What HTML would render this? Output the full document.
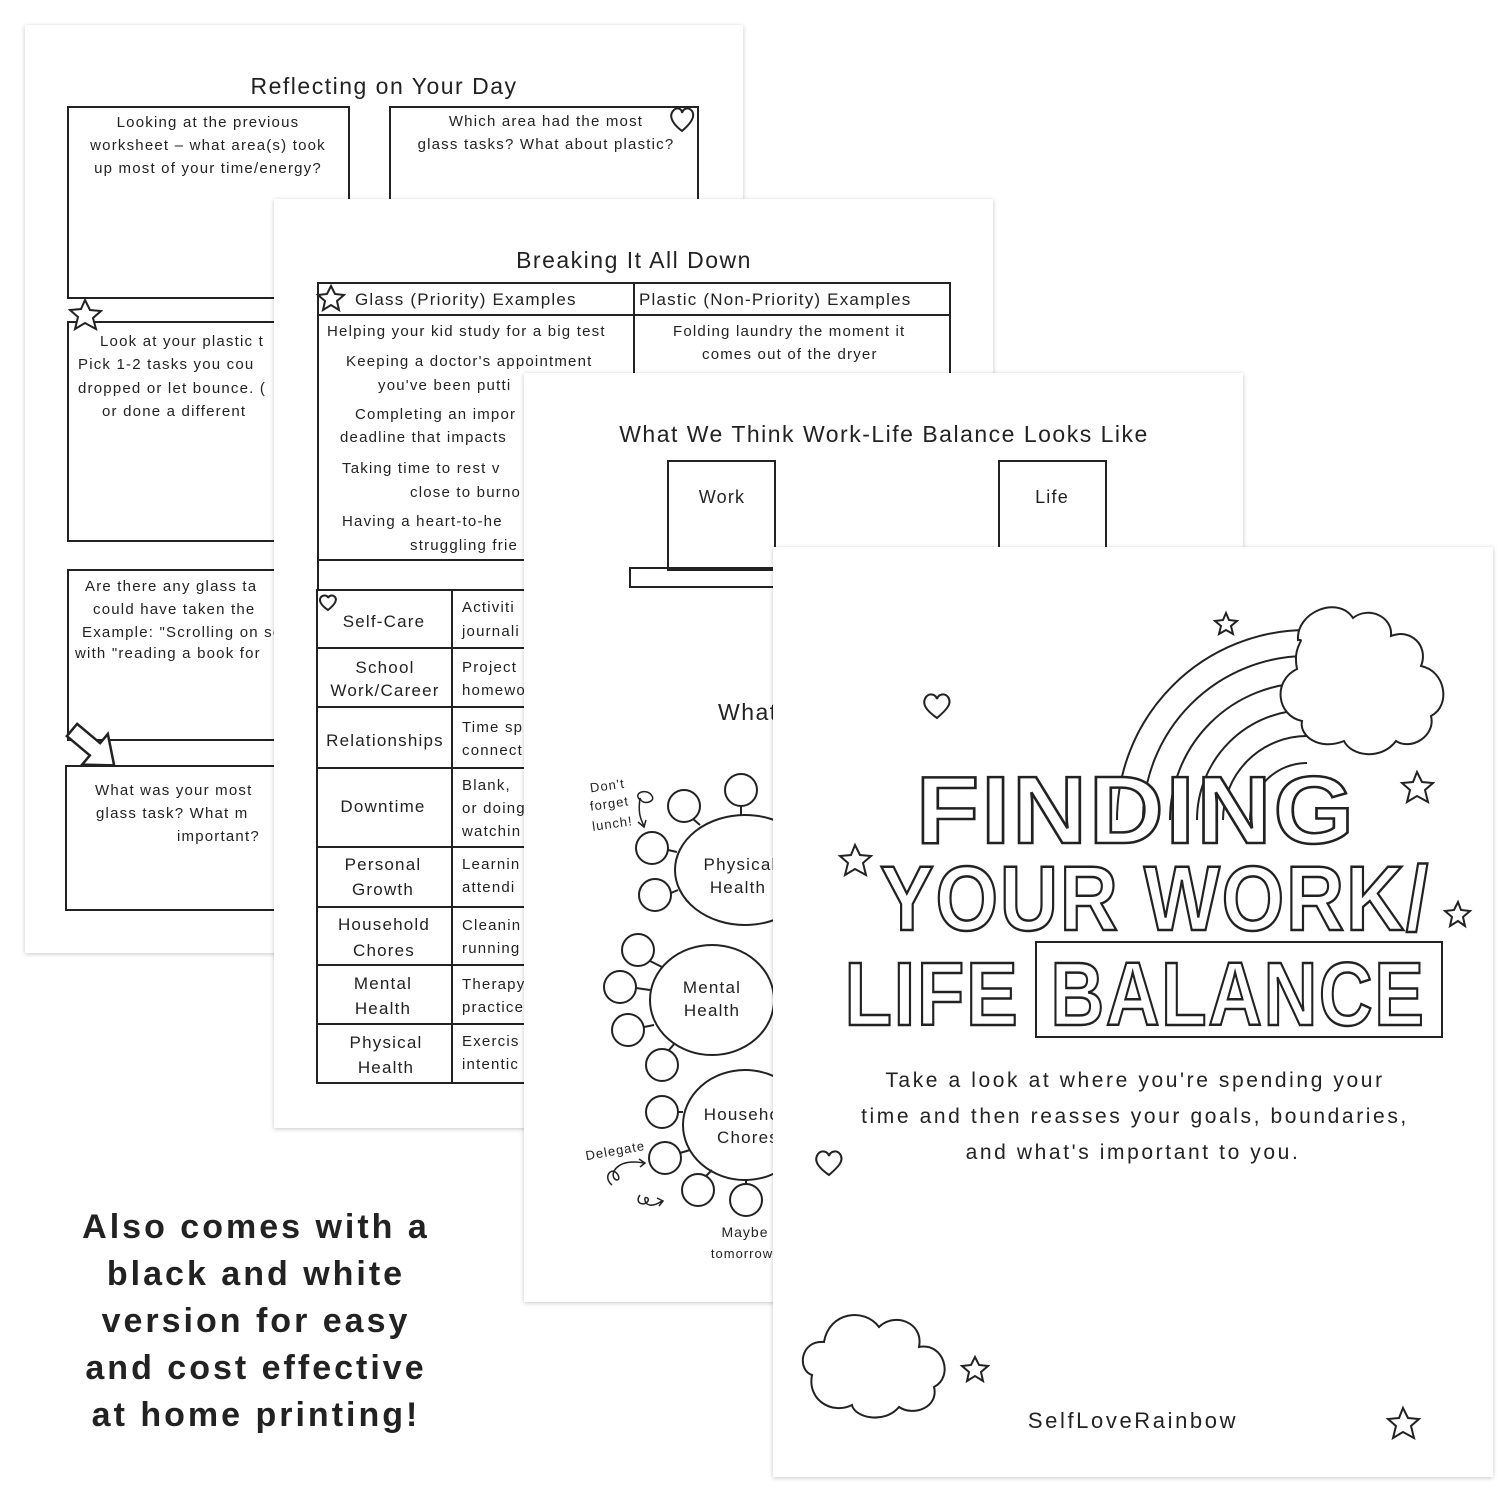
<!DOCTYPE html>
<html><head><meta charset="utf-8"><style>
html,body{margin:0;padding:0;background:#fff;}
svg{display:block}
text{font-family:"Liberation Sans",sans-serif;fill:#222;}
.t{font-size:15px;letter-spacing:1.2px}
.h{font-size:23px;letter-spacing:1.5px}
</style></head><body>
<svg width="1500" height="1500" viewBox="0 0 1500 1500" xmlns="http://www.w3.org/2000/svg">
<defs>
<filter id="sh" x="-5%" y="-5%" width="110%" height="110%"><feDropShadow dx="0" dy="1" stdDeviation="2.5" flood-color="#000" flood-opacity="0.22"/></filter>
</defs>
<g fill="none" stroke="#222" stroke-width="2">
<!-- PAGE 1 -->
<rect x="25" y="25" width="718" height="928" fill="#fff" stroke="none" filter="url(#sh)"/>
<text x="384" y="94" class="h" text-anchor="middle" stroke="none">Reflecting on Your Day</text>
<rect x="68" y="107" width="281" height="191"/>
<rect x="390" y="107" width="308" height="100"/>
<rect x="68" y="322" width="220" height="219"/>
<rect x="68" y="570" width="220" height="170"/>
<rect x="66" y="766" width="220" height="144"/>
<g stroke="none" class="t" text-anchor="middle">
<text x="208" y="127">Looking at the previous</text>
<text x="208" y="150">worksheet – what area(s) took</text>
<text x="208" y="173">up most of your time/energy?</text>
<text x="546" y="126">Which area had the most</text>
<text x="546" y="149">glass tasks? What about plastic?</text>
<text x="100" y="346" text-anchor="start">Look at your plastic t</text>
<text x="78" y="369" text-anchor="start">Pick 1-2 tasks you cou</text>
<text x="78" y="393" text-anchor="start">dropped or let bounce. (</text>
<text x="102" y="416" text-anchor="start">or done a different</text>
<text x="85" y="591" text-anchor="start">Are there any glass ta</text>
<text x="93" y="614" text-anchor="start">could have taken the</text>
<text x="82" y="637" text-anchor="start">Example: "Scrolling on so</text>
<text x="75" y="658" text-anchor="start">with "reading a book for</text>
<text x="95" y="795" text-anchor="start">What was your most</text>
<text x="96" y="818" text-anchor="start">glass task? What m</text>
<text x="177" y="841" text-anchor="start">important?</text>
</g>
<path d="M682 131 c-8-6-14-14-9-20 4-5 9-2 9 2 1-4 6-7 10-2 4 6-3 14-10 20z" fill="#fff"/>
<path d="M85 300 l5 10 11 1-8 7 3 11-11-6-10 6 3-12-8-7 11-1z" fill="#fff"/>
<path d="M0 -8 L30 -8 L30 -20 L55 0 L30 20 L30 8 L0 8 Z" fill="#fff" stroke-width="2.5" transform="translate(72,730) rotate(40)"/>
<!-- PAGE 2 -->
<rect x="274" y="199" width="719" height="929" fill="#fff" stroke="none" filter="url(#sh)"/>
<text x="634" y="268" class="h" text-anchor="middle" stroke="none">Breaking It All Down</text>
<rect x="318" y="283" width="632" height="307"/>
<line x1="318" y1="315" x2="950" y2="315"/>
<line x1="634" y1="283" x2="634" y2="560"/>
<line x1="318" y1="560" x2="950" y2="560"/>
<rect x="317" y="590" width="240" height="493"/>
<line x1="452" y1="590" x2="452" y2="1083"/>
<line x1="317" y1="648" x2="557" y2="648"/>
<line x1="317" y1="707" x2="557" y2="707"/>
<line x1="317" y1="768" x2="557" y2="768"/>
<line x1="317" y1="847" x2="557" y2="847"/>
<line x1="317" y1="907" x2="557" y2="907"/>
<line x1="317" y1="965" x2="557" y2="965"/>
<line x1="317" y1="1024" x2="557" y2="1024"/>
<path d="M331 286 l4 8 9 1-7 6 2 9-8-5-8 5 2-9-7-6 9-1z" fill="#fff"/>
<path d="M328 610 c-6-4-10-9-7-13 3-3 7-1 7 1 1-2 4-4 7-1 3 4-2 9-7 13z"/>
<g stroke="none" class="t">
<text x="355" y="305" style="font-size:17px">Glass (Priority) Examples</text>
<text x="639" y="305" style="font-size:17px">Plastic (Non-Priority) Examples</text>
<text x="327" y="336">Helping your kid study for a big test</text>
<text x="346" y="366">Keeping a doctor's appointment</text>
<text x="378" y="390">you've been putti</text>
<text x="355" y="419">Completing an impor</text>
<text x="340" y="442">deadline that impacts</text>
<text x="342" y="473">Taking time to rest v</text>
<text x="410" y="497">close to burno</text>
<text x="342" y="526">Having a heart-to-he</text>
<text x="410" y="550">struggling frie</text>
<text x="673" y="336">Folding laundry the moment it</text>
<text x="702" y="359">comes out of the dryer</text>
</g>
<g stroke="none" style="font-size:17px;letter-spacing:1.2px" text-anchor="middle">
<text x="384" y="627">Self-Care</text>
<text x="385" y="673">School</text><text x="385" y="696">Work/Career</text>
<text x="385" y="746">Relationships</text>
<text x="383" y="812">Downtime</text>
<text x="383" y="870">Personal</text><text x="383" y="895">Growth</text>
<text x="384" y="930">Household</text><text x="384" y="956">Chores</text>
<text x="383" y="989">Mental</text><text x="383" y="1014">Health</text>
<text x="386" y="1048">Physical</text><text x="386" y="1073">Health</text>
</g>
<g stroke="none" class="t">
<text x="462" y="612">Activiti</text><text x="462" y="636">journali</text>
<text x="462" y="672">Project</text><text x="462" y="695">homewor</text>
<text x="462" y="732">Time sp</text><text x="462" y="755">connect</text>
<text x="462" y="790">Blank,</text><text x="462" y="813">or doing</text><text x="462" y="836">watchin</text>
<text x="462" y="869">Learnin</text><text x="462" y="892">attendi</text>
<text x="462" y="930">Cleanin</text><text x="462" y="953">running</text>
<text x="462" y="989">Therapy</text><text x="462" y="1012">practice</text>
<text x="462" y="1046">Exercis</text><text x="462" y="1069">intentic</text>
</g>
<!-- PAGE 3 -->
<rect x="524" y="373" width="719" height="929" fill="#fff" stroke="none" filter="url(#sh)"/>
<text x="884" y="442" class="h" text-anchor="middle" stroke="none">What We Think Work-Life Balance Looks Like</text>
<rect x="668" y="461" width="107" height="109"/>
<rect x="999" y="461" width="107" height="100"/>
<rect x="630" y="568" width="160" height="19"/>
<text x="722" y="503" class="t" stroke="none" style="font-size:18px" text-anchor="middle">Work</text>
<text x="1052" y="503" class="t" stroke="none" style="font-size:18px" text-anchor="middle">Life</text>
<text x="718" y="720" class="h" stroke="none">What</text>
<ellipse cx="745" cy="870" rx="70" ry="55"/>
<circle cx="741" cy="790" r="16"/><line x1="741" y1="806" x2="741" y2="815"/>
<circle cx="684" cy="806" r="16"/><line x1="693" y1="819" x2="700" y2="825"/>
<circle cx="652" cy="848" r="16"/><line x1="668" y1="850" x2="677" y2="852"/>
<circle cx="655" cy="895" r="16"/><line x1="671" y1="893" x2="678" y2="890"/>
<ellipse cx="712" cy="1000" rx="62" ry="55"/>
<circle cx="638" cy="950" r="16"/><line x1="650" y1="961" x2="662" y2="967"/>
<circle cx="620" cy="987" r="16"/><line x1="636" y1="988" x2="650" y2="990"/>
<circle cx="628" cy="1030" r="16"/><line x1="644" y1="1027" x2="654" y2="1025"/>
<circle cx="662" cy="1065" r="16"/><line x1="669" y1="1050" x2="675" y2="1043"/>
<ellipse cx="745" cy="1125" rx="62" ry="55"/>
<circle cx="662" cy="1112" r="16"/><line x1="678" y1="1112" x2="683" y2="1112"/>
<circle cx="665" cy="1158" r="16"/><line x1="680" y1="1153" x2="690" y2="1150"/>
<circle cx="698" cy="1190" r="16"/><line x1="706" y1="1176" x2="712" y2="1170"/>
<circle cx="746" cy="1200" r="16"/><line x1="746" y1="1184" x2="746" y2="1180"/>
<path d="M640 800 c-8-8 8-12 12-4 4 6-10 10-12 2 -2 14 0 20 4 28 m-6-4 l6 5 2-7" stroke-width="1.5"/>
<path d="M612 1185 c-10 -8 0-20 6-10 4 8-8 6-4-4 6-10 20-10 30-8 m-5-4 l6 4-5 4" stroke-width="1.5"/>
<path d="M640 1195 c-6 8 4 12 8 6 2-4-6-6-2 2 4 4 10 2 16 -2 m-5-3 l6 3-4 5" stroke-width="1.5"/>
<g stroke="none" style="font-size:13px;letter-spacing:1px" text-anchor="middle">
<text x="608" y="790" transform="rotate(-8 608 790)">Don't</text>
<text x="610" y="808" transform="rotate(-8 610 808)">forget</text>
<text x="613" y="828" transform="rotate(-8 613 828)">lunch!</text>
<text x="616" y="1155" transform="rotate(-10 616 1155)">Delegate</text>
<text x="745" y="1237" style="font-size:14px">Maybe</text>
<text x="742" y="1258" style="font-size:13px">tomorrow</text>
</g>
<g stroke="none" style="font-size:17px;letter-spacing:1.2px" text-anchor="middle">
<text x="740" y="870">Physical</text><text x="738" y="893">Health</text>
<text x="712" y="993">Mental</text><text x="712" y="1016">Health</text>
<text x="742" y="1120">Househo</text><text x="748" y="1143">Chores</text>
</g>
<!-- PAGE 4 -->
<rect x="773" y="547" width="720" height="930" fill="#fff" stroke="none" filter="url(#sh)"/>
<g stroke-width="2">
<path d="M1117 820 A190 190 0 0 1 1307 630"/>
<path d="M1143 820 A164 164 0 0 1 1307 656"/>
<path d="M1170 820 A137 137 0 0 1 1307 683"/>
<path d="M1197 820 A110 110 0 0 1 1307 710"/>
<path d="M1223 820 A84 84 0 0 1 1307 736"/>
<path d="M1250 820 A57 57 0 0 1 1307 763"/>
<path d="M1298 640 c-2-28 40-45 55-22 15-12 40-2 38 18 20-8 38 10 30 30 25 5 30 40 10 50 5 20-20 35-35 25-15 20-45 15-52 0-25 10-45-5-42-20-25-5-30-40-5-52-5-25 10-30 1-29z" fill="#fff"/>
<path d="M937 718 c-10-7-16-14-11-21 4-5 10-2 11 2 1-4 7-7 11-2 5 7-3 14-11 21z"/>
<path d="M829 1175 c-10-7-16-14-11-21 4-5 10-2 11 2 1-4 7-7 11-2 5 7-3 14-11 21z"/>
<path d="M1226 613 l3 7 8 1-6 5 2 8-7-4-7 4 2-8-6-5 8-1z"/>
<path d="M1417 772 l5 10 11 1-8 7 3 12-11-6-10 6 3-12-8-7 11-1z"/>
<path d="M855 845 l5 10 11 1-8 7 3 12-11-6-10 6 3-12-8-7 11-1z"/>
<path d="M1458 902 l3 8 9 1-7 6 2 9-7-5-8 5 2-9-7-6 9-1z"/>
<path d="M975 1357 l4 8 9 1-7 6 2 9-8-5-8 5 2-9-7-6 9-1z"/>
<path d="M1403 1408 l5 10 11 1-8 7 3 12-11-6-10 6 3-12-8-7 11-1z"/>
<path d="M812 1375 c-15-5-12-35 12-33 5-30 40-35 55-15 15-15 45-5 40 20 25-5 35 30 15 40 5 20-20 30-35 20-15 18-45 10-47-2-20 10-45-5-40-30z" fill="#fff"/>
<rect x="1036" y="942" width="406" height="95"/>
</g>
<g stroke="none" style="font-family:'Liberation Sans',sans-serif;font-weight:bold;letter-spacing:2px" fill="#fff">
<text x="1136" y="843" text-anchor="middle" textLength="440" lengthAdjust="spacingAndGlyphs" style="font-size:96px;fill:#fff;stroke:#222;stroke-width:2.5px">FINDING</text>
<text x="1155" y="930" text-anchor="middle" textLength="550" lengthAdjust="spacingAndGlyphs" style="font-size:92px;fill:#fff;stroke:#222;stroke-width:2.5px">YOUR WORK/</text>
<text x="932" y="1025" text-anchor="middle" textLength="175" lengthAdjust="spacingAndGlyphs" style="font-size:90px;fill:#fff;stroke:#222;stroke-width:2.5px">LIFE</text>
<text x="1238" y="1025" text-anchor="middle" textLength="375" lengthAdjust="spacingAndGlyphs" style="font-size:90px;fill:#fff;stroke:#222;stroke-width:2.5px">BALANCE</text>
</g>
<g stroke="none" style="font-size:21px;letter-spacing:2.6px" text-anchor="middle">
<text x="1135" y="1087">Take a look at where you're spending your</text>
<text x="1135" y="1123">time and then reasses your goals, boundaries,</text>
<text x="1133" y="1159">and what's important to you.</text>
<text x="1133" y="1428" style="font-size:22px">SelfLoveRainbow</text>
</g>
<!-- bottom left -->
<g stroke="none" style="font-size:34px;font-weight:bold;letter-spacing:3px" text-anchor="middle">
<text x="256" y="1238">Also comes with a</text>
<text x="256" y="1285">black and white</text>
<text x="256" y="1332">version for easy</text>
<text x="256" y="1379">and cost effective</text>
<text x="256" y="1426">at home printing!</text>
</g>
</g>
</svg>
</body></html>
